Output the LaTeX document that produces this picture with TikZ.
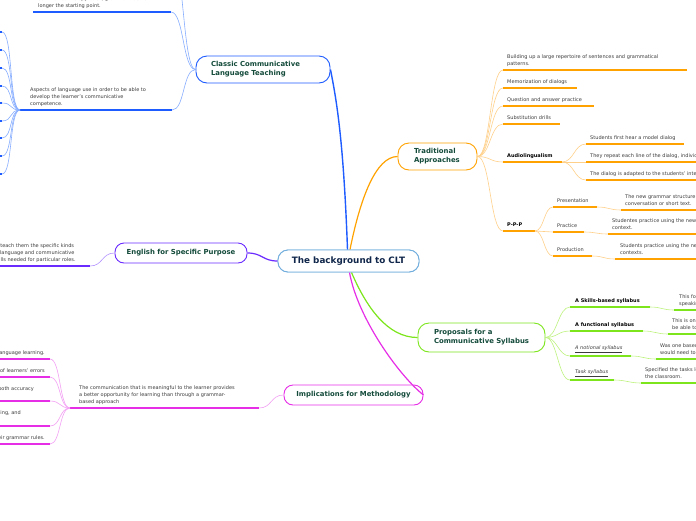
\documentclass[tikz,border=0pt]{standalone}
\usepackage{fontspec}
\setmainfont{DejaVu Sans}
\definecolor{blueM}{HTML}{1F5CFF}
\definecolor{blueL}{HTML}{86ACFF}
\definecolor{orangeM}{HTML}{FFA200}
\definecolor{orangeL}{HTML}{FFD08A}
\definecolor{purpM}{HTML}{6A2BFF}
\definecolor{purpL}{HTML}{B393FF}
\definecolor{greenM}{HTML}{7CE51C}
\definecolor{greenL}{HTML}{BDF27E}
\definecolor{magM}{HTML}{E62EE6}
\definecolor{magL}{HTML}{F3A0F3}
\definecolor{centB}{HTML}{72AEDD}
\definecolor{nodeG}{HTML}{134A3A}
\definecolor{centT}{HTML}{10264A}
\definecolor{txtG}{HTML}{3C3C3C}
\newcommand\fMain{\fontsize{6.9}{9}\selectfont\bfseries}
\newcommand\fCent{\fontsize{8.8}{10}\selectfont\bfseries}
\newcommand\fSmall{\fontsize{5}{7}\selectfont}
\begin{document}
\begin{tikzpicture}[x=1pt,y=-1pt,
  box/.style={draw, fill=white, line width=0.9pt, rounded corners=11pt, inner sep=0pt, font=\fMain, text=nodeG},
  lbl/.style={font=\fSmall, text=txtG, inner sep=0pt, anchor=south west, align=left, execute at end node=\vphantom{g}},
  rlbl/.style={font=\fSmall, text=txtG, inner sep=0pt, anchor=base east},
  ulB/.style={draw=blueM, line width=1.7pt},
  cvB/.style={draw=blueL, line width=0.6pt},
  ulO/.style={draw=orangeM, line width=1.7pt},
  cvO/.style={draw=orangeL, line width=0.6pt},
  ulP/.style={draw=purpM, line width=1.7pt},
  cvP/.style={draw=purpL, line width=0.6pt},
  ulG/.style={draw=greenM, line width=1.7pt},
  cvG/.style={draw=greenL, line width=0.6pt},
  ulM/.style={draw=magM, line width=1.7pt},
  cvM/.style={draw=magL, line width=0.6pt},
  bold/.style={font=\fSmall\bfseries, text=black},
  link/.style={font=\fSmall\itshape, text=txtG}
]
\useasboundingbox (0,0) rectangle (696,520);
\clip (0,0) rectangle (696,520);

% ---------- main nodes ----------
\node[box, draw=centB, rounded corners=10pt, minimum width=141pt, minimum height=22pt, font=\fCent, text=centT] (center) at (348.5,261) {The background to CLT};
\node[box, draw=blueM, minimum width=134pt, minimum height=27pt, text width=104pt, align=left] (classic) at (263,69.5) {\mbox{Classic Communicative}\\\mbox{Language Teaching}};
\node[box, draw=orangeM, minimum width=79pt, minimum height=27pt, text width=47pt, align=left] (trad) at (437.5,156.5) {\mbox{Traditional}\\\mbox{Approaches}};
\node[box, draw=purpM, rounded corners=9pt, minimum width=132pt, minimum height=20pt] (esp) at (181,253) {English for Specific Purpose};
\node[box, draw=greenM, minimum width=127pt, minimum height=29pt, text width=95pt, align=left] (prop) at (481.5,337.5) {\mbox{Proposals for a}\\\mbox{Communicative Syllabus}};
\node[box, draw=magM, rounded corners=9pt, minimum width=139pt, minimum height=20pt] (impl) at (353.5,395) {Implications for Methodology};

% ---------- Traditional Approaches ----------
\coordinate (t1s) at (503,70);  \coordinate (t1e) at (687,70);
\coordinate (t2s) at (503,88);  \coordinate (t2e) at (577,88);
\coordinate (t3s) at (503,106); \coordinate (t3e) at (594,106);
\coordinate (t4s) at (503,124); \coordinate (t4e) at (560,124);
\coordinate (t5s) at (503,162); \coordinate (t5e) at (562,162);
\coordinate (t6s) at (503,231); \coordinate (t6e) at (535,231);
\foreach \k in {1,...,6}{
  \draw[cvO] (trad.east) .. controls +(13,0) and +(-13,0) .. (t\k s);
  \draw[ulO] (t\k s) -- (t\k e);
}
\node[lbl] (t1) at (507,66.6) {Building up a large repertoire of sentences and grammatical\\patterns.};
\node[lbl] (t2) at (507,84.6) {Memorization of dialogs};
\node[lbl] (t3) at (507,102.6) {Question and answer practice};
\node[lbl] (t4) at (507,120.6) {Substitution drills};
\node[lbl, bold] (t5) at (507,158.6) {Audiolingualism};
\node[lbl, bold] (t6) at (507,227.6) {P-P-P};

% Audiolingualism children
\coordinate (a1s) at (586,144); \coordinate (a1e) at (684,144);
\coordinate (a2s) at (586,162); \coordinate (a2e) at (710,162);
\coordinate (a3s) at (586,180); \coordinate (a3e) at (710,180);
\foreach \k in {1,2,3}{
  \draw[cvO] (t5e) .. controls +(12,0) and +(-12,0) .. (a\k s);
  \draw[ulO] (a\k s) -- (a\k e);
}
\node[lbl] (a1) at (590,140.6) {Students first hear a model dialog};
\node[lbl] (a2) at (590,158.6) {They repeat each line of the dialog, individually and in chorus.};
\node[lbl] (a3) at (590,176.6) {The dialog is adapted to the students' interests or situation.};

% P-P-P children
\coordinate (p1s) at (553,207); \coordinate (p1e) at (597,207);
\coordinate (p2s) at (553,232); \coordinate (p2e) at (584,232);
\coordinate (p3s) at (553,256); \coordinate (p3e) at (592,256);
\foreach \k in {1,2,3}{
  \draw[cvO] (t6e) .. controls +(9,0) and +(-9,0) .. (p\k s);
  \draw[ulO] (p\k s) -- (p\k e);
}
\node[lbl] (p1) at (557,203.6) {Presentation};
\node[lbl] (p2) at (557,228.6) {Practice};
\node[lbl] (p3) at (557,252.6) {Production};

\coordinate (q1s) at (621,210); \coordinate (q1e) at (710,210);
\coordinate (q2s) at (608,234); \coordinate (q2e) at (710,234);
\coordinate (q3s) at (615,259); \coordinate (q3e) at (710,259);
\foreach \k in {1,2,3}{
  \draw[cvO] (p\k e) .. controls +(12,0) and +(-12,0) .. (q\k s);
  \draw[ulO] (q\k s) -- (q\k e);
}
\node[lbl] (q1) at (625,206.6) {The new grammar structure is presented, often through a\\conversation or short text.};
\node[lbl] (q2) at (612,230.6) {Studentes practice using the new structure in a controlled\\context.};
\node[lbl] (q3) at (620,255.6) {Students practice using the new structure in different\\contexts.};

% ---------- Proposals ----------
\coordinate (r1s) at (570,307); \coordinate (r1e) at (650,307);
\coordinate (r2s) at (570,331); \coordinate (r2e) at (643,331);
\coordinate (r3s) at (570,356); \coordinate (r3e) at (631,356);
\coordinate (r4s) at (570,380); \coordinate (r4e) at (614,380);
\foreach \k in {1,...,4}{
  \draw[cvG] (prop.east) .. controls +(12,0) and +(-12,0) .. (r\k s);
  \draw[ulG] (r\k s) -- (r\k e);
}
\node[lbl, bold] (r1) at (575,303.6) {A Skills-based syllabus};
\node[lbl, bold] (r2) at (575,327.6) {A functional syllabus};
\node[lbl, link] (r3) at (575,352.6) {\underline{A notional syllabus}};
\node[lbl, link] (r4) at (575,376.6) {\underline{Task syllabus}};

\coordinate (s1s) at (674,310); \coordinate (s1e) at (710,310);
\coordinate (s2s) at (668,334); \coordinate (s2e) at (710,334);
\coordinate (s3s) at (656,359); \coordinate (s3e) at (710,359);
\coordinate (s4s) at (641,383); \coordinate (s4e) at (710,383);
\foreach \k in {1,...,4}{
  \draw[cvG] (r\k e) .. controls +(12,0) and +(-12,0) .. (s\k s);
  \draw[ulG] (s\k s) -- (s\k e);
}
\node[lbl] (s1) at (679,306.6) {This focuses on the four skills: listening,\\speaking, reading and writing.};
\node[lbl] (s2) at (672,330.6) {This is one in which learners would\\be able to use language functions.};
\node[lbl] (s3) at (660,355.6) {Was one based on the notions learners\\would need to express.};
\node[lbl] (s4) at (645,379.6) {Specified the tasks learners would do in\\the classroom.};

% ---------- Classic Communicative Language Teaching ----------
\coordinate (c0e) at (171,-45);
\coordinate (c1s) at (33,12);  \coordinate (c1e) at (171,12);
\coordinate (c2s) at (20,110); \coordinate (c2e) at (172,110);
\draw[cvB] (classic.west) .. controls +(-13,0) and +(13,0) .. (c0e);
\foreach \k in {1,2}{
  \draw[cvB] (classic.west) .. controls +(-13,0) and +(13,0) .. (c\k e);
  \draw[ulB] (c\k s) -- (c\k e);
}
\node[lbl] (c1) at (38,8.6) {communicative approach, grammar was no\\longer the starting point.};
\node[lbl] (c2) at (30,106.6) {Aspects of language use in order to be able to\\develop the learner's communicative\\competence.};
\foreach \y [count=\i] in {32,50,68,86,103,121,138,156,174}{
  \coordinate (k\i) at (2,\y);
  \coordinate (kb\i) at (-12,\y);
  \draw[cvB] (c2s) .. controls +(-11,0) and +(11,0) .. (k\i);
  \draw[ulB] (k\i) -- (kb\i);
}

% ---------- English for Specific Purpose ----------
\coordinate (e1s) at (-20,266); \coordinate (e1e) at (90,266);
\draw[cvP] (esp.west) .. controls +(-13,0) and +(13,0) .. (e1e);
\draw[ulP] (e1s) -- (e1e);
\node[lbl] (e1) at (-6.5,262.6) {to teach them the specific kinds\\of language and communicative\\skills needed for particular roles.};

% ---------- Implications for Methodology ----------
\coordinate (m1s) at (70,408); \coordinate (m1e) at (259,408);
\draw[cvM] (impl.west) .. controls +(-13,0) and +(13,0) .. (m1e);
\draw[ulM] (m1s) -- (m1e);
\node[lbl] (m1) at (79,404.6) {The communication that is meaningful to the learner provides\\a better opportunity for learning than through a grammar-\\based approach};
\foreach \y [count=\i] in {359,377,401,426,444}{
  \coordinate (g\i) at (50,\y);
  \coordinate (gb\i) at (-12,\y);
  \draw[cvM] (m1s) .. controls +(-11,0) and +(11,0) .. (g\i);
  \draw[ulM] (g\i) -- (gb\i);
}
\node[rlbl] (h1) at (45,354.4) {Errors are a natural part of language learning.};
\node[rlbl] (h2) at (45,372.4) {Teachers should be tolerant of learners' errors};
\node[rlbl] (h3) at (34,390.4) {The aim is to develop both accuracy};
\node[rlbl] (h4) at (21,414.4) {listening, speaking, reading, and};
\node[rlbl] (h5) at (45,439.4) {Learners discover their grammar rules.};

% ---------- main connectors ----------
\draw[draw=blueM, line width=1.4pt] ([xshift=-1pt]center.north) .. controls +(-4,-110) and +(6,30) .. (classic.east);
\draw[draw=orangeM, line width=1.2pt] ([xshift=1.5pt]center.north) .. controls +(10,-50) and +(-22,0) .. (trad.west);
\draw[draw=purpM, line width=1.2pt] (center.west) .. controls +(-15,0) and +(15,0) .. (esp.east);
\draw[draw=greenM, line width=1.2pt] ([xshift=3pt]center.south) .. controls +(15,35) and +(-30,0) .. (prop.west);
\draw[draw=magM, line width=1.2pt] ([xshift=1pt]center.south) .. controls +(8,45) and +(-25,-20) .. (impl.east);

% central box redrawn on top of the connector ends
\node[box, draw=centB, rounded corners=10pt, minimum width=141pt, minimum height=22pt, font=\fCent, text=centT] at (center) {The background to CLT};
\end{tikzpicture}
\end{document}
